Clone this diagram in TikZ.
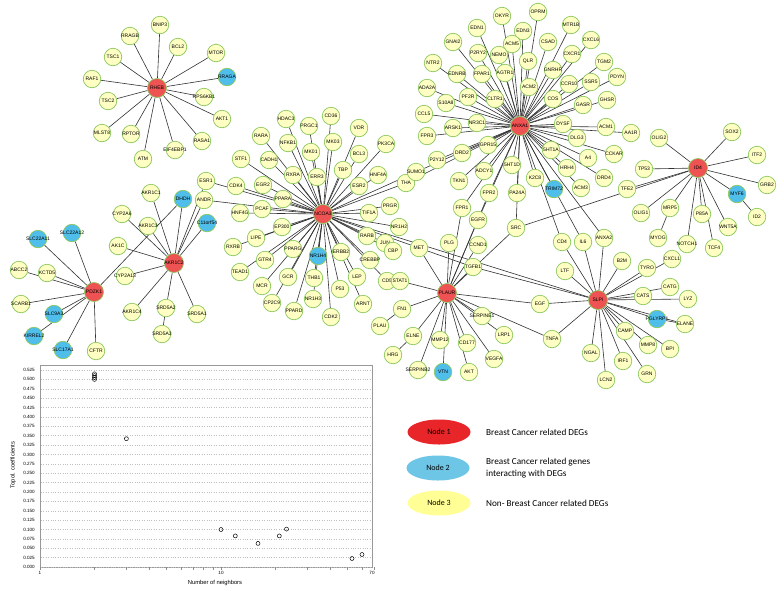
\documentclass[tikz,border=0pt]{standalone}
\usepackage{fontspec}
\setmainfont{Liberation Sans}
\newfontfamily\legfont{Carlito}
\usetikzlibrary{shapes.geometric,backgrounds}
\definecolor{gy}{RGB}{255,255,196}
\definecolor{gb}{RGB}{140,200,95}
\definecolor{bl}{RGB}{80,190,235}
\definecolor{rd}{RGB}{238,82,82}
\definecolor{ec}{RGB}{50,50,50}
\definecolor{lr}{RGB}{232,38,42}
\definecolor{lb}{RGB}{110,198,230}
\definecolor{ly}{RGB}{255,255,150}
\tikzset{
  gene/.style={circle,draw=gb,line width=0.7pt,fill=gy,minimum size=17.5pt,inner sep=0pt,font=\fontsize{5}{5}\selectfont},
  bgene/.style={gene,fill=bl},
  hub/.style={gene,fill=rd,minimum size=19pt},
  edge/.style={draw=ec,line width=0.6pt},
  gridline/.style={draw=black!25,line width=0.4pt,dotted},
  ytick/.style={anchor=east,inner sep=0pt,font=\fontsize{4.6}{5}\selectfont},
  xtick/.style={anchor=north,inner sep=0pt,font=\fontsize{4.6}{5}\selectfont},
  axtitle/.style={inner sep=0pt,font=\fontsize{5.8}{6}\selectfont},
  legell/.style={ellipse,minimum width=63pt,minimum height=25pt,inner sep=0pt,font=\legfont\fontsize{8}{9}\selectfont},
  legtxt/.style={anchor=west,align=left,inner sep=0pt,font=\legfont\fontsize{9.2}{12.5}\selectfont},
  datapt/.style={circle,draw=black,line width=0.5pt,minimum size=4pt,inner sep=0pt},
}
\newcommand\Y[3]{\node[gene] (#1) at (#2,#3) {\makebox[0pt]{#1}};}
\newcommand\B[3]{\node[bgene] (#1) at (#2,#3) {\makebox[0pt]{#1}};}
\newcommand\HB[3]{\node[hub] (#1) at (#2,#3) {\makebox[0pt]{#1}};}
\begin{document}
\begin{tikzpicture}[x=1pt,y=-1pt]
\useasboundingbox (0,0) rectangle (784,590);
\begin{pgfonlayer}{background}
\fill[white] (0,0) rectangle (784,590);
\end{pgfonlayer}
% ---------------- RHEB cluster
\HB{RHEB}{157}{88}
\Y{BNIP3}{160}{25}\Y{RRAGB}{130}{36}\Y{BCL2}{178}{47}\Y{MTOR}{216}{53}
\Y{TSC1}{113}{57}\Y{RAF1}{92}{79}\B{RRAGA}{227}{77}\Y{RPS6KB1}{204}{97}
\Y{TSC2}{108}{101}\Y{AKT1}{222}{119}\Y{MLST8}{102}{133}\Y{RPTOR}{131}{134}
\Y{RASA1}{202}{141}\Y{EIF4EBP1}{175}{150}\Y{ATM}{143}{159}
% ---------------- AKR1C2 / PDZK1
\HB{AKR1C2}{174}{263}\HB{PDZK1}{94}{292}
\Y{AKR1C1}{151}{193}\B{DHDH}{183}{199}\Y{ANDR}{204}{200}\Y{ESR1}{206}{181}
\Y{CYP2A6}{122}{214}\Y{AKR1C3}{148}{226}\B{C11orf54}{207}{223}\Y{AK1C}{118}{246}
\Y{CYP2A13}{125}{276}\Y{AKR1C4}{132}{312}\Y{SRD5A2}{166}{308}\Y{SRD5A1}{197}{314}
\Y{SRD5A3}{162}{334}
\B{SLC22A12}{72}{233}\B{SLC22A11}{38}{239}\Y{ABCC2}{19}{270}\Y{KCTD5}{47}{273}
\Y{SCARB1}{21}{304}\B{SLC9A3}{54}{314}\B{KIRREL2}{34}{336}\B{SLC17A1}{63}{350}
\Y{CFTR}{96}{351}
% ---------------- NCOA3
\HB{NCOA3}{323}{214}
\Y{HDAC3}{286}{119}\Y{CD36}{331}{116}\Y{PRGC1}{309}{126}\Y{VDR}{359}{128}
\Y{RARA}{261}{136}\Y{NFKB1}{288}{143}\Y{MK03}{333}{142}\Y{PK3CA}{386}{144}
\Y{MK01}{311}{152}\Y{BCL3}{359}{154}\Y{STF1}{241}{159}\Y{CADH1}{269}{160}
\Y{TBP}{343}{170}\Y{RXRA}{293}{175}\Y{ERR3}{317}{177}\Y{HNF4A}{378}{175}
\Y{CDK4}{236}{186}\Y{EGR2}{263}{185}\Y{ESR2}{359}{186}\Y{PPARA}{283}{199}
\Y{PRGR}{390}{206}\Y{HNF4G}{240}{213}\Y{PCAF}{262}{209}\Y{TIF1A}{369}{213}
\Y{EP300}{282}{227}\Y{NR1H2}{399}{227}\Y{LIPE}{256}{238}\Y{RARB}{367}{236}
\Y{JUN}{385}{243}\Y{RXRB}{233}{247}\Y{PPARG}{293}{249}\B{NR1H4}{318}{256}
\Y{ERBB2}{341}{252}\Y{CBP}{393}{251}\Y{CREBBP}{370}{260}\Y{GTR4}{265}{260}
\Y{TEAD1}{240}{272}\Y{GCR}{288}{277}\Y{THB1}{314}{278}\Y{LEP}{357}{277}
\Y{CD5}{387}{281}\Y{STAT1}{400}{281}\Y{MCR}{262}{286}\Y{P53}{340}{289}
\Y{NR1H3}{313}{299}\Y{ARNT}{363}{304}\Y{CP2C9}{272}{303}\Y{PPARD}{294}{311}
\Y{CDK2}{331}{317}\Y{THA}{406}{183}\Y{SUMO1}{416}{172}
% ---------------- ANXA1
\HB{ANXA1}{520}{126}
\Y{OKYR}{502}{16}\Y{OPRM}{538}{12}\Y{EDN1}{477}{28}\Y{EDN3}{523}{31}
\Y{MTR1B}{571}{25}\Y{ACM5}{512}{44}\Y{CSAD}{548}{42}\Y{CXCL6}{591}{40}
\Y{GNAI2}{453}{42}\Y{P2RY2}{478}{53}\Y{NEMO}{499}{55}\Y{QLR}{528}{61}
\Y{CXCR1}{572}{54}\Y{TGM2}{604}{62}\Y{NTR2}{433}{63}\Y{EDNRB}{457}{74}
\Y{FPAR1}{482}{74}\Y{AGTR1}{505}{73}\Y{GNRHR}{553}{70}\Y{CCR10}{569}{84}
\Y{SSR5}{591}{82}\Y{PDYN}{617}{77}\Y{ADA2A}{427}{88}\Y{ACM2}{529}{87}
\Y{S10A8}{446}{103}\Y{PF2R}{468}{97}\Y{CLTR1}{495}{99}\Y{COS}{553}{99}
\Y{GASR}{583}{105}\Y{GHSR}{607}{100}\Y{CCL5}{424}{114}\Y{NR3C1}{477}{123}
\Y{ARSK1}{453}{128}\Y{DYSF}{563}{124}\Y{ACM1}{606}{127}\Y{FPR3}{427}{136}
\Y{DLG3}{577}{138}\Y{GPR15}{488}{145}
\node[gene] (n5HT1A) at (551,150) {\makebox[0pt]{5HT1A}};
\Y{DRD2}{462}{153}\Y{A4}{588}{158}\Y{CCKAR}{614}{154}\Y{AA1R}{631}{133}
\Y{P2Y12}{437}{160}
\node[gene] (n5HT1D) at (512,165) {\makebox[0pt]{5HT1D}};
\Y{ADCY1}{484}{171}\Y{HRH4}{567}{168}\Y{DRD4}{604}{178}\Y{TKN1}{459}{181}
\Y{K2C8}{535}{178}\B{TRIM72}{554}{189}\Y{ACM3}{581}{188}\Y{FPR2}{489}{193}
\Y{PA24A}{517}{193}\Y{FPR1}{462}{208}\Y{EGFR}{478}{220}\Y{SRC}{516}{228}
% ---------------- ID4
\HB{ID4}{698}{168}
\Y{OLIG2}{659}{138}\Y{SOX2}{732}{132}\Y{ITF2}{757}{155}\Y{TP53}{644}{169}
\Y{TFE2}{627}{189}\Y{GRB2}{767}{185}\B{MYF6}{737}{194}\Y{OLIG1}{641}{213}
\Y{MRP5}{670}{208}\Y{P85A}{702}{214}\Y{ID2}{757}{217}\Y{WNT5A}{728}{227}
\Y{MYOG}{658}{238}\Y{NOTCH1}{687}{244}\Y{TCF4}{714}{248}
% ---------------- SLPI
\HB{SLPI}{598}{300}
\Y{CD4}{562}{242}\Y{IL6}{583}{242}\Y{ANXA2}{604}{238}\Y{B2M}{622}{261}
\Y{CXCL1}{672}{259}\Y{LTF}{565}{271}\Y{TYRO}{647}{268}\Y{CATG}{670}{287}
\Y{CATS}{643}{296}\Y{LYZ}{688}{299}\Y{EGF}{540}{304}\B{PGLYRP1}{657}{319}
\Y{ELANE}{685}{324}\Y{CAMP}{625}{331}\Y{TNFA}{552}{339}\Y{MMP8}{648}{345}
\Y{BPI}{670}{349}\Y{NGAL}{591}{353}\Y{IRF1}{623}{361}\Y{GRN}{647}{374}
\Y{LCN2}{606}{380}
% ---------------- PLAUR
\HB{PLAUR}{447}{293}
\Y{MET}{419}{248}\Y{PLG}{449}{243}\Y{CCND1}{478}{245}\Y{TGFB1}{473}{267}
\Y{FN1}{402}{309}\Y{PLAU}{380}{326}\Y{ELNE}{413}{336}\Y{HRG}{393}{355}
\Y{SERPINB2}{418}{370}\B{VTN}{443}{372}\Y{AKT}{469}{372}\Y{MMP12}{440}{340}
\Y{CD177}{467}{343}\Y{VEGFA}{494}{359}\Y{LRP1}{504}{335}\Y{SERPINE1}{482}{316}
% ---------------- edges
\begin{scope}[on background layer]
\foreach \t in {BNIP3,RRAGB,BCL2,MTOR,TSC1,RAF1,RRAGA,RPS6KB1,TSC2,AKT1,MLST8,RPTOR,RASA1,EIF4EBP1,ATM}
  \draw[edge] (RHEB) -- (\t);
\foreach \t in {AKR1C1,DHDH,ANDR,C11orf54,ESR1,CYP2A6,AKR1C3,AK1C,CYP2A13,AKR1C4,SRD5A2,SRD5A1}
  \draw[edge] (AKR1C2) -- (\t);
\draw[edge] (SRD5A2) -- (SRD5A3);
\foreach \t in {SLC22A11,SLC22A12,ABCC2,KCTD5,SCARB1,SLC9A3,KIRREL2,SLC17A1,CFTR,DHDH}
  \draw[edge] (PDZK1) -- (\t);
\foreach \t in {HDAC3,CD36,PRGC1,VDR,RARA,NFKB1,MK03,PK3CA,MK01,BCL3,STF1,CADH1,TBP,RXRA,ERR3,HNF4A,ESR1,CDK4,EGR2,ESR2,ANDR,PPARA,PRGR,HNF4G,PCAF,TIF1A,EP300,NR1H2,LIPE,RARB,JUN,RXRB,PPARG,NR1H4,ERBB2,CREBBP,CBP,GTR4,TEAD1,GCR,THB1,LEP,CD5,MCR,P53,NR1H3,ARNT,CP2C9,PPARD,CDK2,THA,SUMO1,TGFB1,SLPI}
  \draw[edge] (NCOA3) -- (\t);
\foreach \t in {OKYR,OPRM,EDN1,EDN3,MTR1B,ACM5,CSAD,CXCL6,GNAI2,P2RY2,NEMO,QLR,CXCR1,TGM2,NTR2,EDNRB,FPAR1,AGTR1,GNRHR,CCR10,SSR5,PDYN,ADA2A,ACM2,S10A8,PF2R,CLTR1,COS,GASR,GHSR,CCL5,NR3C1,ARSK1,DYSF,ACM1,FPR3,DLG3,GPR15,n5HT1A,DRD2,A4,CCKAR,AA1R,P2Y12,n5HT1D,ADCY1,HRH4,DRD4,TKN1,K2C8,ACM3,FPR2,PA24A,FPR1,EGFR,SRC,TRIM72,CD4,IL6,ANXA2,SUMO1,THA}
  \draw[edge] (ANXA1) -- (\t);
\foreach \t in {OLIG2,SOX2,ITF2,TP53,TFE2,GRB2,MYF6,OLIG1,MRP5,P85A,WNT5A,NOTCH1,TCF4,SRC}
  \draw[edge] (ID4) -- (\t);
\draw[edge] (MYF6) -- (ID2);
\draw[edge] (MRP5) -- (MYOG);
\foreach \t in {FPR1,EGFR,FPR2,SRC,PLG,CCND1,TGFB1,MET,STAT1,FN1,ELNE,SERPINB2,VTN,AKT,MMP12,CD177,VEGFA,SERPINE1,LRP1,EGF,TNFA}
  \draw[edge] (PLAUR) -- (\t);
\draw[edge] (FN1) -- (PLAU);
\draw[edge] (ELNE) -- (HRG);
\foreach \t in {CD4,IL6,ANXA2,B2M,CXCL1,LTF,TYRO,CATG,CATS,LYZ,PGLYRP1,ELANE,CAMP,MMP8,BPI,GRN,IRF1,LCN2,NGAL,TNFA,EGF,TGFB1}
  \draw[edge] (SLPI) -- (\t);
\draw[edge] (PGLYRP1) -- (ELANE);
\end{scope}
% ---------------- plot
\draw[black!40,line width=0.6pt] (40,365) rectangle (372,567);
\foreach \i in {0,...,21}{
  \pgfmathsetmacro\yy{567-\i*9.381}
  \pgfmathsetmacro\vv{\i*0.025}
  \draw[gridline] (41,\yy) -- (371,\yy);
  \node[ytick] at (35,\yy) {\pgfmathprintnumber[fixed,fixed zerofill,precision=3,assume math mode=true]{\vv}};
}
\foreach \n in {1,2,...,10,20,30,40,50,60,70}{
  \pgfmathsetmacro\xx{40+181*log10(\n)}
  \draw[black!45,line width=0.4pt] (\xx,567) -- (\xx,570);
}
\node[xtick] (xl1) at (40,571) {1};
\node[xtick] (xl10) at (221,571) {10};
\node[xtick] (xl70) at (372,571) {70};
\node[axtitle] (xtitle) at (215,583) {Number of neighbors};
\node[axtitle,rotate=90] (ytitle) at (13,465) {Topol. coefficients};
\node[datapt] (d1) at (94.5,379.4) {};
\node[datapt] (d2) at (94.5,377.5) {};
\node[datapt] (d3) at (94.5,375.6) {};
\node[datapt] (d4) at (94.5,373.8) {};
\node[datapt] (d5) at (126.4,438.7) {};
\node[datapt] (d6) at (221,529.5) {};
\node[datapt] (d7) at (235.3,535.9) {};
\node[datapt] (d8) at (258,543.4) {};
\node[datapt] (d9) at (279.3,535.9) {};
\node[datapt] (d10) at (286.5,529.1) {};
\node[datapt] (d11) at (352,558.5) {};
\node[datapt] (d12) at (362,554.5) {};
% ---------------- legend
\node[legell,fill=lr] (L1) at (439,432) {Node 1};
\node[legell,fill=lb] (L2) at (438,468) {Node 2};
\node[legell,fill=ly] (L3) at (439,503) {Node 3};
\node[legtxt] (T1) at (486,432) {Breast Cancer related DEGs};
\node[legtxt] (T2) at (486,468) {Breast Cancer related genes\\interacting with DEGs};
\node[legtxt] (T3) at (486,503) {Non- Breast Cancer related DEGs};
\end{tikzpicture}
\end{document}
